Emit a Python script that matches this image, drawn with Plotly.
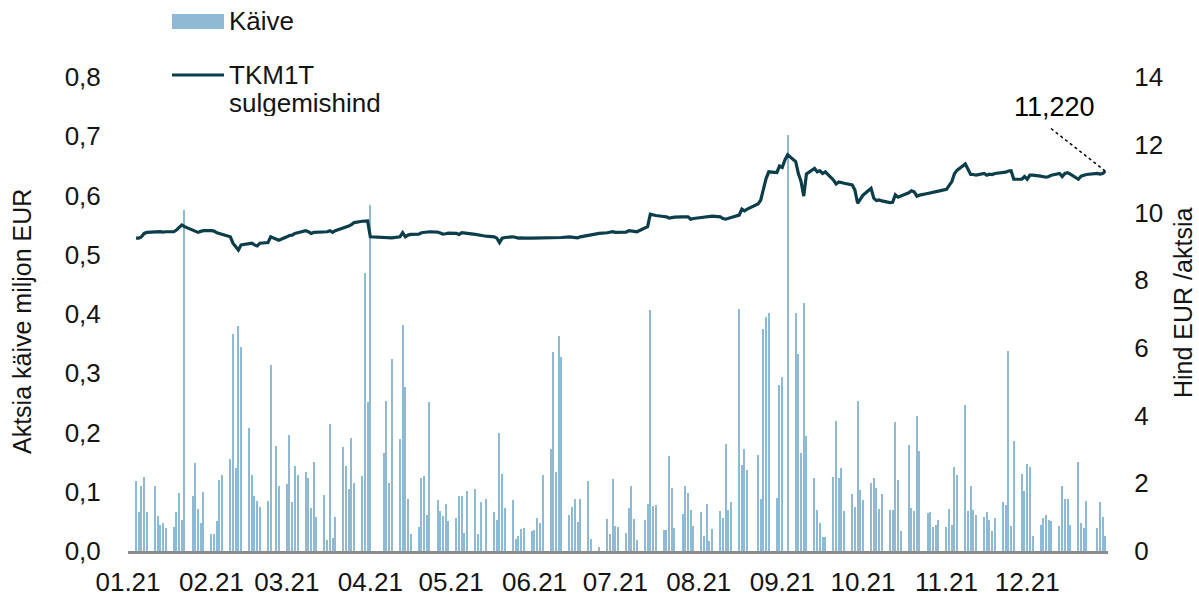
import pandas as pd
import plotly.graph_objects as go

# ---- data -------------------------------------------------------------
holidays = ["2021-01-01", "2021-02-24", "2021-04-02", "2021-04-05",
            "2021-06-23", "2021-06-24", "2021-08-20", "2021-12-24", "2021-12-31"]

turnover_jan = [0.118, 0.065, 0.109, 0.125, 0.066, 0.110, 0.059, 0.044, 0.047, 0.039,
                0.041, 0.065, 0.098, 0.052, 0.575, 0.093, 0.148, 0.071, 0.048, 0.100]
turnover_feb = [0.029, 0.029, 0.051, 0.119, 0.128, 0.155, 0.366, 0.140, 0.379, 0.345,
                0.208, 0.128, 0.093, 0.085, 0.074, 0.085, 0.314, 0.177, 0.109]
turnover_mar = [0.113, 0.196, 0.082, 0.143, 0.128, 0.133, 0.124, 0.073, 0.151, 0.057,
                0.095, 0.019, 0.214, 0.022, 0.057, 0.176, 0.144, 0.105, 0.191, 0.114,
                0.127, 0.469, 0.251]
turnover_apr = [0.584, 0.165, 0.253, 0.115, 0.324, 0.189, 0.381, 0.277, 0.088, 0.028,
                0.041, 0.123, 0.126, 0.061, 0.251, 0.086, 0.068, 0.059, 0.080, 0.051]
turnover_may = [0.056, 0.092, 0.093, 0.030, 0.101, 0.104, 0.029, 0.082, 0.000, 0.087,
                0.066, 0.053, 0.200, 0.130, 0.073, 0.086, 0.021, 0.026, 0.037, 0.038,
                0.034]
turnover_jun = [0.035, 0.056, 0.047, 0.129, 0.172, 0.336, 0.133, 0.363, 0.327, 0.061,
                0.074, 0.088, 0.049, 0.088, 0.118, 0.020, 0.007, 0.054, 0.029, 0.122]
turnover_jul = [0.042, 0.041, 0.030, 0.073, 0.109, 0.054, 0.019, 0.052, 0.080, 0.406,
                0.076, 0.078, 0.036, 0.036, 0.161, 0.107, 0.039, 0.062, 0.110, 0.098,
                0.069, 0.042]
turnover_aug = [0.065, 0.026, 0.080, 0.017, 0.037, 0.068, 0.055, 0.181, 0.069, 0.082,
                0.408, 0.146, 0.173, 0.136, 0.162, 0.088, 0.375, 0.395, 0.401, 0.089,
                0.280]
turnover_sep = [0.294, 0.000, 0.702, 0.401, 0.333, 0.165, 0.419, 0.194, 0.123, 0.069,
                0.048, 0.024, 0.024, 0.125, 0.219, 0.123, 0.140, 0.068, 0.097, 0.075,
                0.254, 0.103]
turnover_oct = [0.086, 0.115, 0.124, 0.106, 0.071, 0.096, 0.069, 0.069, 0.218, 0.120,
                0.034, 0.179, 0.073, 0.068, 0.228, 0.168, 0.064, 0.065, 0.040, 0.044,
                0.053]
turnover_nov = [0.041, 0.071, 0.044, 0.142, 0.128, 0.246, 0.068, 0.110, 0.070, 0.061,
                0.058, 0.065, 0.053, 0.033, 0.056, 0.082, 0.078, 0.338, 0.043, 0.185,
                0.130, 0.102]
turnover_dec = [0.147, 0.142, 0.025, 0.044, 0.056, 0.061, 0.053, 0.051, 0.043, 0.109,
                0.088, 0.088, 0.044, 0.151, 0.048, 0.038, 0.085, 0.039, 0.082, 0.058,
                0.025]

price_jan = [9.24, 9.24, 9.28, 9.38, 9.41, 9.43, 9.42, 9.43, 9.42, 9.43,
             9.43, 9.48, 9.56, 9.63, 9.58, 9.48, 9.43, 9.41, 9.44, 9.46]
price_feb = [9.46, 9.45, 9.40, 9.38, 9.35, 9.28, 9.09, 8.97, 8.89, 9.04,
             9.09, 9.09, 9.04, 9.01, 9.09, 9.11, 9.28, 9.20, 9.18]
price_mar = [9.28, 9.32, 9.33, 9.38, 9.40, 9.46, 9.43, 9.38, 9.41, 9.41,
             9.42, 9.43, 9.46, 9.41, 9.46, 9.53, 9.56, 9.60, 9.64, 9.70,
             9.74, 9.75, 9.75]
price_apr = [9.28, 9.26, 9.24, 9.24, 9.25, 9.28, 9.40, 9.28, 9.33, 9.35,
             9.36, 9.40, 9.41, 9.43, 9.43, 9.42, 9.38, 9.36, 9.37, 9.39]
price_may = [9.38, 9.35, 9.40, 9.38, 9.38, 9.35, 9.33, 9.32, 9.31, 9.30,
             9.28, 9.24, 9.11, 9.24, 9.26, 9.28, 9.26, 9.24, 9.25, 9.24,
             9.24]
price_jun = [9.24, 9.24, 9.24, 9.25, 9.24, 9.25, 9.25, 9.25, 9.26, 9.28,
             9.27, 9.26, 9.25, 9.28, 9.33, 9.34, 9.38, 9.40, 9.41, 9.43]
price_jul = [9.41, 9.41, 9.42, 9.46, 9.44, 9.44, 9.43, 9.53, 9.58, 9.95,
             9.92, 9.91, 9.88, 9.87, 9.83, 9.85, 9.86, 9.87, 9.88, 9.87,
             9.80, 9.82]
price_aug = [9.85, 9.86, 9.89, 9.90, 9.89, 9.87, 9.82, 9.80, 9.83, 9.85,
             9.92, 10.10, 10.05, 10.10, 10.25, 10.36, 10.68, 11.00, 11.20, 11.18,
             11.37]
price_sep = [11.33, 11.55, 11.70, 11.50, 11.15, 10.91, 10.48, 11.14, 11.30, 11.20,
             11.23, 11.15, 11.20, 10.96, 10.84, 10.90, 10.89, 10.86, 10.81, 10.66,
             10.27, 10.39]
price_oct = [10.51, 10.71, 10.42, 10.35, 10.37, 10.34, 10.29, 10.30, 10.52, 10.45,
             10.48, 10.58, 10.64, 10.61, 10.48, 10.51, 10.56, 10.58, 10.61, 10.63,
             10.63]
price_nov = [10.68, 10.81, 10.91, 11.15, 11.25, 11.43, 11.25, 11.12, 11.12, 11.10,
             11.15, 11.10, 11.13, 11.12, 11.15, 11.17, 11.19, 11.22, 11.23, 10.98,
             10.98, 11.06]
price_dec = [10.98, 11.10, 11.10, 11.07, 11.06, 11.04, 11.06, 11.10, 11.15, 11.06,
             11.15, 11.17, 11.13, 10.98, 11.07, 11.10, 11.12, 11.15, 11.13, 11.15,
             11.22]

month_ticks_format = "%m.%y"
left_ticks = [0.0, 0.1, 0.2, 0.3, 0.4, 0.5, 0.6, 0.7, 0.8]
right_ticks = [0, 2, 4, 6, 8, 10, 12, 14]

# ---- assemble ---------------------------------------------------------
days = pd.bdate_range("2021-01-01", "2021-12-31")
days = days[~days.isin(pd.to_datetime(holidays))]
turnover = (turnover_jan + turnover_feb + turnover_mar + turnover_apr + turnover_may +
            turnover_jun + turnover_jul + turnover_aug + turnover_sep + turnover_oct +
            turnover_nov + turnover_dec)
price = (price_jan + price_feb + price_mar + price_apr + price_may + price_jun +
         price_jul + price_aug + price_sep + price_oct + price_nov + price_dec)
assert len(days) == len(turnover) == len(price)

FONT = "Liberation Sans"
FS = 26
TXT = "#141414"
BAR = "#8fbad3"
LINE = "#0b3d4a"

fig = go.Figure()
fig.add_trace(go.Bar(x=days, y=turnover, name="Käive", marker_color=BAR,
                     marker_line_width=0, width=0.45 * 86400000, yaxis="y"))
fig.add_trace(go.Scatter(x=days, y=price, name="TKM1T sulgemishind", mode="lines",
                         line=dict(color=LINE, width=3.2), yaxis="y2"))

L, R, T, B = 128, 91, 77, 46
W, H = 1199, 597
pw, ph = W - L - R, H - T - B


def px(xp):
    return (xp - L) / pw


def py(yp):
    return (H - B - yp) / ph


last_day = days[-1]
last_price = price[-1]

tf = dict(family=FONT, size=FS, color=TXT)
fig.update_layout(
    width=W, height=H,
    margin=dict(l=L, r=R, t=T, b=B, autoexpand=False),
    paper_bgcolor="white", plot_bgcolor="white",
    separators=", ",
    showlegend=False,
    font=tf,
    bargap=0,
    xaxis=dict(type="date", range=["2021-01-01", "2021-12-31"],
               tickformat=month_ticks_format, dtick="M1", tick0="2021-01-01",
               showgrid=False, zeroline=False, showline=True,
               linecolor="#8c8c8c", linewidth=2.5, automargin=False,
               ticks="outside", ticklen=6, tickcolor="rgba(0,0,0,0)",
               tickfont=tf),
    yaxis=dict(range=[0, 0.8], tickvals=left_ticks, tickformat=".1f",
               showgrid=False, zeroline=False, showline=False, automargin=False,
               ticks="outside", ticklen=21, tickcolor="rgba(0,0,0,0)",
               tickfont=tf),
    yaxis2=dict(range=[0, 14], tickvals=right_ticks, overlaying="y", side="right",
                showgrid=False, zeroline=False, showline=False, automargin=False,
                ticks="outside", ticklen=20, tickcolor="rgba(0,0,0,0)",
                tickfont=tf),
)

shapes = [
    # legend patches
    dict(type="rect", xref="paper", yref="paper", x0=px(172), x1=px(224),
         y0=py(29), y1=py(14), fillcolor=BAR, line=dict(width=0)),
    dict(type="line", xref="paper", yref="paper", x0=px(172), x1=px(224),
         y0=py(75), y1=py(75), line=dict(color=LINE, width=3)),
    # leader for last value
    dict(type="line", xref="x", yref="y2",
         x0=last_day, y0=last_price,
         x1=last_day - pd.Timedelta(days=21), y1=last_price + 1.31,
         line=dict(color="black", width=1.5, dash="dot")),
]

annotations = [
    dict(text="Käive", xref="paper", yref="paper", x=px(227), y=py(21),
         xanchor="left", yanchor="middle", showarrow=False),
    dict(text="TKM1T", xref="paper", yref="paper", x=px(227), y=py(75),
         xanchor="left", yanchor="middle", showarrow=False, height=26),
    dict(text="sulgemishind", xref="paper", yref="paper", x=px(227), y=py(103),
         xanchor="left", yanchor="middle", showarrow=False, height=26),
    dict(text="Aktsia käive miljon EUR", xref="paper", yref="paper",
         x=px(22), y=py(322), textangle=-90, xanchor="center", yanchor="middle",
         showarrow=False, font=dict(family=FONT, size=25, color=TXT)),
    dict(text="Hind EUR /aktsia", xref="paper", yref="paper",
         x=px(1183), y=py(303), textangle=-90, xanchor="center", yanchor="middle",
         showarrow=False, font=dict(family=FONT, size=25, color=TXT)),
    dict(text=f"{last_price:.3f}".replace(".", ","), xref="x", yref="y2",
         x=last_day - pd.Timedelta(days=19), y=last_price + 1.89,
         xanchor="center", yanchor="middle", showarrow=False,
         font=dict(family=FONT, size=27, color="black")),
]

fig.update_layout(shapes=shapes, annotations=annotations)
fig.write_html("out.html",
               config={"displayModeBar": False},
               post_script="document.body.style.margin='0';"
                           "document.body.style.overflow='hidden';")
